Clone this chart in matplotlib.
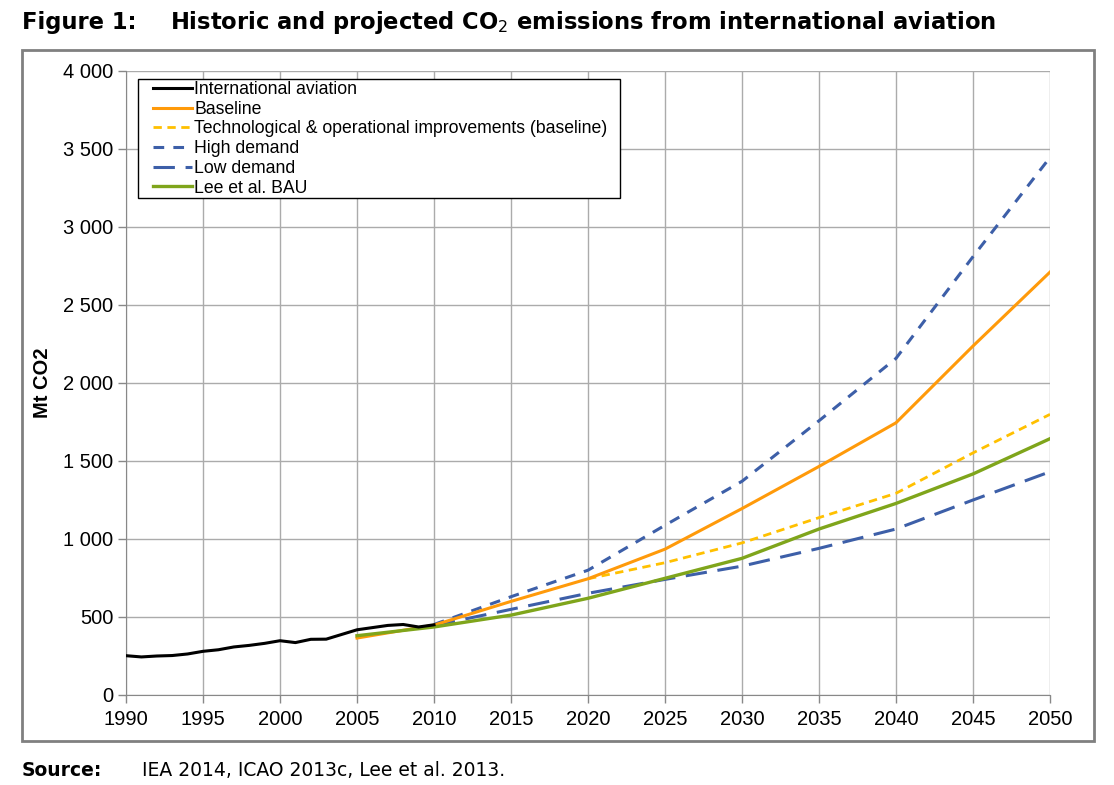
import matplotlib
matplotlib.use('Agg')
import matplotlib.pyplot as plt
from matplotlib.patches import Rectangle
from matplotlib.ticker import FuncFormatter

# historic data
hist_years = list(range(1990, 2011))
hist_vals = [252, 244, 250, 253, 263, 280, 290, 308, 318, 331, 348, 336, 357, 358, 388, 418, 432, 446, 452, 436, 450]

# projections
proj_years = [2005, 2010, 2015, 2020, 2025, 2030, 2035, 2040, 2045, 2050]
baseline = [365, 448, 600, 745, 935, 1195, 1465, 1745, 2237, 2711]
lee_bau = [380, 436, 512, 620, 748, 876, 1064, 1228, 1417, 1643]

dem_years = [2010, 2015, 2020, 2025, 2030, 2035, 2040, 2045, 2050]
high_demand = [452, 630, 800, 1088, 1370, 1758, 2158, 2810, 3446]
low_demand = [445, 549, 652, 741, 826, 940, 1064, 1250, 1431]

tech_years = [2020, 2025, 2030, 2035, 2040, 2045, 2050]
tech_ops = [745, 848, 975, 1137, 1293, 1552, 1799]

labels = ['International aviation', 'Baseline',
          'Technological & operational improvements (baseline)',
          'High demand', 'Low demand', 'Lee et al. BAU']

plt.rcParams['font.family'] = ['Liberation Sans', 'DejaVu Sans']

W, H = 1114, 785
fig = plt.figure(figsize=(W/100, H/100), dpi=100)
ax = fig.add_axes([126/W, 1-695/H, 924/W, 624/H])

ax.plot(dem_years, high_demand, color='#3D5FA8', lw=2.2, dashes=(3.5, 3), label=labels[3], zorder=3)
ax.plot(dem_years, low_demand, color='#3D5FA8', lw=2.2, dashes=(7, 3.5), label=labels[4], zorder=3)
ax.plot(tech_years, tech_ops, color='#FFC000', lw=2.0, dashes=(3, 2), label=labels[2], zorder=4)
ax.plot(proj_years, baseline, color='#FF9A0A', lw=2.2, label=labels[1], zorder=5)
ax.plot(proj_years, lee_bau, color='#7FA51B', lw=2.4, label=labels[5], zorder=5)
ax.plot(hist_years, hist_vals, color='black', lw=2.2, label=labels[0], zorder=6)

ax.set_xlim(1990, 2050)
ax.set_ylim(0, 4000)
ax.set_xticks(range(1990, 2051, 5))
ax.set_yticks(range(0, 4001, 500))
ax.yaxis.set_major_formatter(FuncFormatter(lambda v, p: '{:,}'.format(int(v)).replace(',', ' ')))
ax.tick_params(labelsize=14.5, color='#888888', length=6, width=1)
ax.tick_params(axis='x', pad=5)
ax.tick_params(axis='y', pad=3)
ax.grid(True, color='#ababab', lw=1)
ax.set_axisbelow(True)
for s in ['top', 'right']:
    ax.spines[s].set_visible(False)
for s in ['left', 'bottom']:
    ax.spines[s].set_color('#888888')

fig.text(42/W, 1-383/H, 'Mt CO2', fontsize=14.5, fontweight='bold', rotation=90,
         ha='center', va='center')

# legend box drawn by hand, entries without frame
ax.add_patch(Rectangle((138/W, 1-198/H), 482/W, 119/H, transform=fig.transFigure,
                       facecolor='white', edgecolor='black', lw=1, zorder=7))
h, l = ax.get_legend_handles_labels()
order = [l.index(x) for x in labels]
leg = fig.legend([h[i] for i in order], [l[i] for i in order], loc='upper left',
                 bbox_to_anchor=(153/W, 1-81/H), fontsize=12.7, frameon=False,
                 handlelength=2.2, handletextpad=0.15, labelspacing=0.155,
                 borderpad=0, borderaxespad=0)
leg.set_zorder(8)

# outer frame
fig.patches.append(Rectangle((22/W, 1-741/H), 1072/W, 691/H, transform=fig.transFigure,
                             fill=False, edgecolor='#808080', lw=2))

fig.text(22/W, 1-22/H, 'Figure 1:', fontsize=16.3, fontweight='bold',
         family='DejaVu Sans', va='center')
fig.text(170/W, 1-22/H, 'Historic and projected CO$_2$ emissions from international aviation',
         fontsize=16.3, fontweight='bold', family='DejaVu Sans', va='center')
fig.text(22/W, 1-771/H, 'Source:', fontsize=13.5, fontweight='bold', family='DejaVu Sans', va='center')
fig.text(142/W, 1-771/H, 'IEA 2014, ICAO 2013c, Lee et al. 2013.', fontsize=13.5,
         family='DejaVu Sans', va='center')

fig.savefig('out.png', dpi=100)
